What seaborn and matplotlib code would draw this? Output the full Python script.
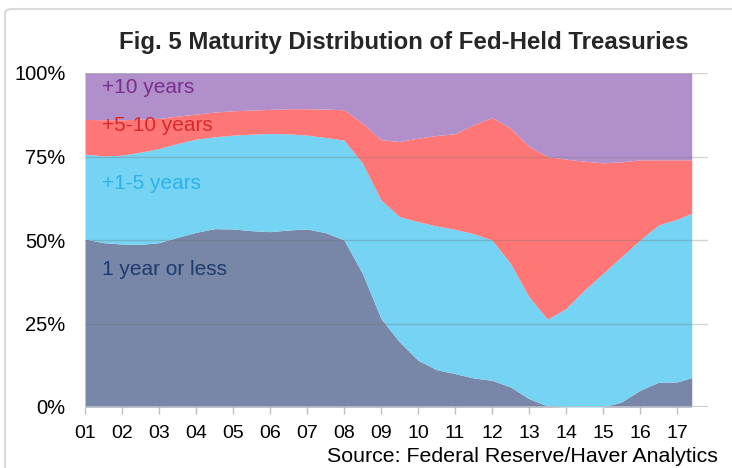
import numpy as np
import pandas as pd
import matplotlib
matplotlib.use("Agg")
import matplotlib.pyplot as plt
import seaborn as sns
from matplotlib.patches import FancyBboxPatch

# ---- data (shares in %) ----
years = [1.0, 1.5, 2.0, 2.5, 3.0, 3.5, 4.0, 4.5, 5.0, 5.5, 6.0, 6.5, 7.0, 7.5,
         8.0, 8.5, 9.0, 9.5, 10.0, 10.5, 11.0, 11.5, 12.0, 12.5, 13.0, 13.5,
         14.0, 14.5, 15.0, 15.5, 16.0, 16.5, 17.0, 17.4]
one_year_or_less = [50.3, 49.2, 48.8, 48.7, 49.2, 50.8, 52.3, 53.4, 53.3, 52.8,
                    52.5, 53.0, 53.3, 52.2, 50.0, 40.0, 26.5, 19.5, 14.0, 11.2,
                    10.0, 8.7, 8.0, 6.0, 2.5, 0.3, 0.0, 0.0, 0.0, 1.5, 5.0,
                    7.4, 7.5, 8.8]
one_to_five = [25.4, 26.0, 26.6, 27.6, 28.2, 28.1, 27.9, 27.5, 28.1, 28.9, 29.4,
               28.8, 28.1, 28.5, 29.9, 33.0, 35.5, 37.5, 41.5, 43.0, 43.2, 43.2,
               42.0, 37.0, 30.5, 26.0, 29.5, 35.0, 40.0, 43.5, 45.0, 47.1, 48.7,
               49.2]
five_to_ten = [10.4, 10.8, 10.6, 9.9, 9.0, 8.2, 7.5, 7.4, 7.3, 7.2, 7.2, 7.5,
               7.9, 8.5, 9.1, 12.0, 18.0, 22.5, 25.0, 27.1, 28.6, 32.6, 36.7,
               40.5, 45.0, 48.7, 44.7, 38.6, 33.1, 28.4, 24.0, 19.5, 17.8, 16.0]
over_ten = [13.9, 14.0, 14.0, 13.8, 13.6, 12.9, 12.3, 11.7, 11.3, 11.1, 10.9,
            10.7, 10.7, 10.8, 11.0, 15.0, 20.0, 20.5, 19.5, 18.7, 18.2, 15.5,
            13.3, 16.5, 22.0, 25.0, 25.8, 26.4, 26.9, 26.6, 26.0, 26.0, 26.0,
            26.0]

series_names = ["1 year or less", "+1-5 years", "+5-10 years", "+10 years"]
tick_years = list(range(1, 18))
tick_labels = [f"{y:02d}" for y in tick_years]
y_ticks = [0, 25, 50, 75, 100]
y_tick_labels = ["0%", "25%", "50%", "75%", "100%"]

df = pd.DataFrame({"year": years,
                   series_names[0]: one_year_or_less,
                   series_names[1]: one_to_five,
                   series_names[2]: five_to_ten,
                   series_names[3]: over_ten})

fill_colors = ["#7886A8", "#75D3F3", "#FF7676", "#B08FCB"]
text_colors = ["#1F3A6E", "#2DB3E8", "#D62B2B", "#7A2E8E"]

sns.set_theme(style="white")
plt.rcParams["font.family"] = ["Liberation Sans", "DejaVu Sans"]

fig = plt.figure(figsize=(7.32, 4.68), dpi=100)
ax = fig.add_axes([85 / 732, 1 - 407 / 468, (708 - 85) / 732, (407 - 73) / 468])

ax.stackplot(df["year"], [df[s] for s in series_names], colors=fill_colors,
             linewidth=0, zorder=1)

ax.set_xlim(1, 17.84)
ax.set_ylim(0, 100)

# gridlines
for yv in y_ticks[1:]:
    ax.axhline(yv, color="#6E6E6E", alpha=0.3, linewidth=1.0, zorder=2)
ax.axhline(0, color="#BFBFBF", linewidth=1.2, zorder=3)

for s in ax.spines.values():
    s.set_visible(False)

ax.set_xticks(tick_years)
ax.set_xticklabels(tick_labels, fontsize=14, color="black")
ax.set_yticks(y_ticks)
ax.set_yticklabels(y_tick_labels, fontsize=14.5, color="black")
ax.tick_params(axis="x", which="both", bottom=True, length=5, width=1,
               color="#BFBFBF", direction="out", pad=8)
ax.tick_params(axis="y", length=0, pad=14)
ax.set_xlabel("")
ax.set_ylabel("")

# series labels
label_y = [41.2, 66.8, 84.2, 95.8]
for name, yv, c in zip(series_names, label_y, text_colors):
    ax.text(1.46, yv, name, fontsize=15, color=c, va="center", ha="left", zorder=4)

# title & source
fig.text(404 / 732, 1 - 43 / 468, "Fig. 5 Maturity Distribution of Fed-Held Treasuries",
         ha="center", va="center", fontsize=17.3, fontweight="bold",
         family=["Liberation Sans Narrow", "Liberation Sans", "DejaVu Sans"])
fig.text(718 / 732, 1 - 457 / 468, "Source: Federal Reserve/Haver Analytics",
         ha="right", va="center", fontsize=15.4, color="black")

# outer chart border
border = FancyBboxPatch((5 / 732, -0.05), 1.2, 1 - 9 / 468 + 0.05,
                        boxstyle="round,pad=0,rounding_size=0.01",
                        transform=fig.transFigure, fill=False,
                        edgecolor="#D9D9D9", linewidth=1.5, zorder=0)
fig.patches.append(border)

fig.savefig("out.png", dpi=100)
